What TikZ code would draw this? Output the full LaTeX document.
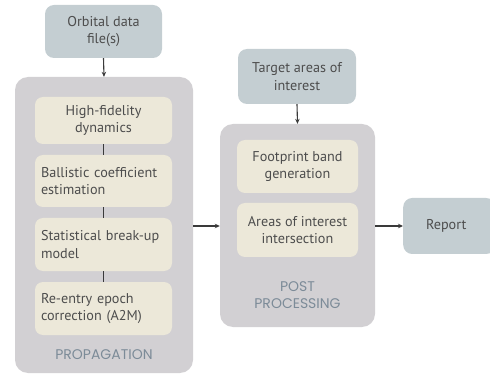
\documentclass[tikz,border=0pt]{standalone}
\usepackage{fontspec}
\setmainfont{PT Sans}
\newfontfamily\labelfont{Poppins}
\usetikzlibrary{arrows.meta}
\definecolor{bluebox}{HTML}{C4CED2}
\definecolor{container}{HTML}{D2D0D3}
\definecolor{beige}{HTML}{ECE8D9}
\definecolor{txt}{HTML}{4D4D4D}
\definecolor{lbl}{HTML}{7C8B98}
\definecolor{arr}{HTML}{3A3A3A}
\tikzset{
  iobox/.style={fill=bluebox, rounded corners=9pt, inner sep=0pt, align=center, text=txt, font=\fontsize{14.2}{17.5}\selectfont},
  cont/.style={fill=container, rounded corners=13pt, inner sep=0pt},
  inbox/.style={fill=beige, rounded corners=8pt, inner sep=0pt, text=txt, font=\fontsize{14.2}{17.5}\selectfont, minimum width=137pt},
  lbltext/.style={text=lbl, font=\labelfont\fontsize{14}{16.5}\selectfont, align=center, inner sep=0pt},
  flow/.style={draw=arr, line width=1.1pt, -{Stealth[length=5pt,width=4.5pt]}},
  link/.style={draw=arr, line width=1.3pt}
}
\begin{document}
\begin{tikzpicture}[x=1pt,y=-1pt]
\useasboundingbox (0,0) rectangle (490,374);
% left column
\node[iobox, minimum width=117pt, minimum height=53pt] (orb) at (103.5,31.5) {Orbital data\\file(s)};
\node[cont, minimum width=178pt, minimum height=296pt] (prop) at (104,225) {};
\node[inbox, minimum height=47pt, align=center] (hf) at (103.5,120.5) {High-fidelity\\dynamics};
\node[inbox, minimum height=52pt, text width=125pt, align=left] (bc) at (103.5,181) {Ballistic coefficient\\estimation};
\node[inbox, minimum height=53pt, text width=125pt, align=left] (sb) at (103.5,244.5) {Statistical break-up\\model};
\node[inbox, minimum height=53pt, text width=125pt, align=left] (re) at (103.5,308.5) {Re-entry epoch\\correction (A2M)};
\node[lbltext] (proplbl) at (104,355) {PROPAGATION};
% middle column
\node[iobox, minimum width=118pt, minimum height=55pt] (tgt) at (297,76.5) {Target areas of\\interest};
\node[cont, minimum width=155pt, minimum height=203pt] (post) at (297.5,225.5) {};
\node[inbox, minimum width=121pt, minimum height=53pt, align=center] (fp) at (297.5,166.5) {Footprint band\\generation};
\node[inbox, minimum width=121pt, minimum height=54pt, align=center] (ai) at (297.5,230) {Areas of interest\\intersection};
\node[lbltext] (postlbl) at (297.5,295) {POST\\PROCESSING};
% report
\node[iobox, minimum width=92pt, minimum height=56pt, anchor=west] (rep) at (403,226) {\hspace*{-6pt}Report};
% connectors
\draw[flow] (orb.south) -- (prop.north);
\draw[flow] (tgt.south) -- (post.north);
\draw[link] (hf.south) -- (bc.north);
\draw[link] (bc.south) -- (sb.north);
\draw[link] (sb.south) -- (re.north);
\draw[flow] (prop.east |- 0,226) -- (post.west |- 0,226);
\draw[flow] (post.east |- 0,226) -- (rep.west);
\end{tikzpicture}
\end{document}
